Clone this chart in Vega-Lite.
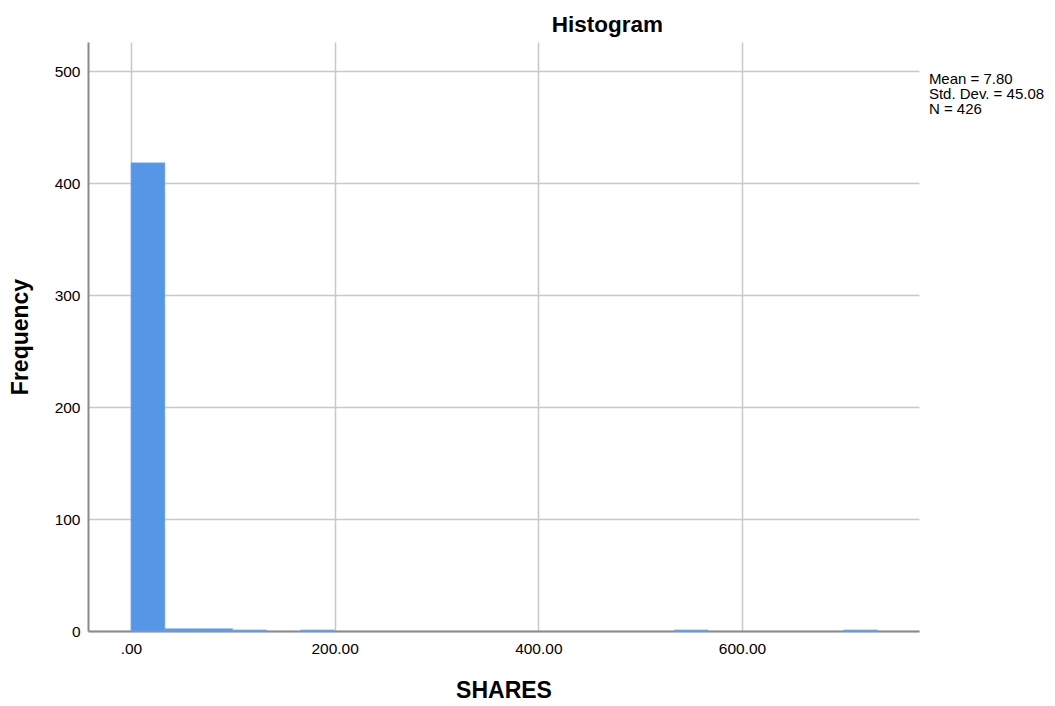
{
  "$schema": "https://vega.github.io/schema/vega-lite/v6.json",
  "width": 831,
  "height": 589,
  "autosize": {"type": "none"},
  "padding": {"left": 88, "top": 42, "right": 136, "bottom": 75},
  "background": "white",
  "config": {
    "view": {"stroke": null},
    "font": "Liberation Sans",
    "axis": {
      "gridColor": "#c8c8c8",
      "gridWidth": 1.5,
      "domainColor": "#8a8a8a",
      "domainWidth": 2,
      "ticks": false,
      "labelFont": "Liberation Sans",
      "labelFontSize": 15.5,
      "labelColor": "#000000",
      "titleFont": "Liberation Sans",
      "titleFontSize": 23,
      "titleFontWeight": "bold",
      "titleColor": "#000000"
    }
  },
  "title": {
    "text": "Histogram",
    "fontSize": 22.5,
    "fontWeight": "bold",
    "font": "Liberation Sans",
    "color": "#000000",
    "anchor": "middle",
    "dx": 104,
    "offset": 6
  },
  "data": {
    "values": [
      {"bin_start": 0, "bin_end": 33.33, "count": 418},
      {"bin_start": 33.33, "bin_end": 66.67, "count": 2},
      {"bin_start": 66.67, "bin_end": 100, "count": 2},
      {"bin_start": 100, "bin_end": 133.33, "count": 1},
      {"bin_start": 166.67, "bin_end": 200, "count": 1},
      {"bin_start": 533.33, "bin_end": 566.67, "count": 1},
      {"bin_start": 700, "bin_end": 733.33, "count": 1}
    ]
  },
  "layer": [
    {
      "mark": {"type": "rect", "color": "#5596e6", "stroke": "#7aaeee", "strokeWidth": 0.6},
      "encoding": {
        "x": {
          "field": "bin_start",
          "type": "quantitative",
          "scale": {"domain": [-42.2, 773.8], "nice": false, "zero": false},
          "axis": {
            "title": "SHARES",
            "values": [0, 200, 400, 600],
            "labelExpr": "datum.value == 0 ? '.00' : format(datum.value, '.2f')",
            "labelPadding": 10,
            "titlePadding": 23
          }
        },
        "x2": {"field": "bin_end"},
        "y": {
          "field": "count",
          "type": "quantitative",
          "scale": {"domain": [0, 525.9], "nice": false},
          "axis": {
            "title": "Frequency",
            "values": [0, 100, 200, 300, 400, 500],
            "labelPadding": 8,
            "titlePadding": 22
          }
        },
        "y2": {"datum": 0}
      }
    },
    {
      "data": {"values": [{}]},
      "mark": {
        "type": "text",
        "align": "left",
        "baseline": "top",
        "fontSize": 15,
        "lineHeight": 15,
        "font": "Liberation Sans",
        "color": "#000000",
        "clip": false
      },
      "encoding": {
        "x": {"datum": 783.5},
        "y": {"datum": 498.7},
        "text": {"value": ["Mean = 7.80", "Std. Dev. = 45.08", "N = 426"]}
      }
    }
  ]
}
